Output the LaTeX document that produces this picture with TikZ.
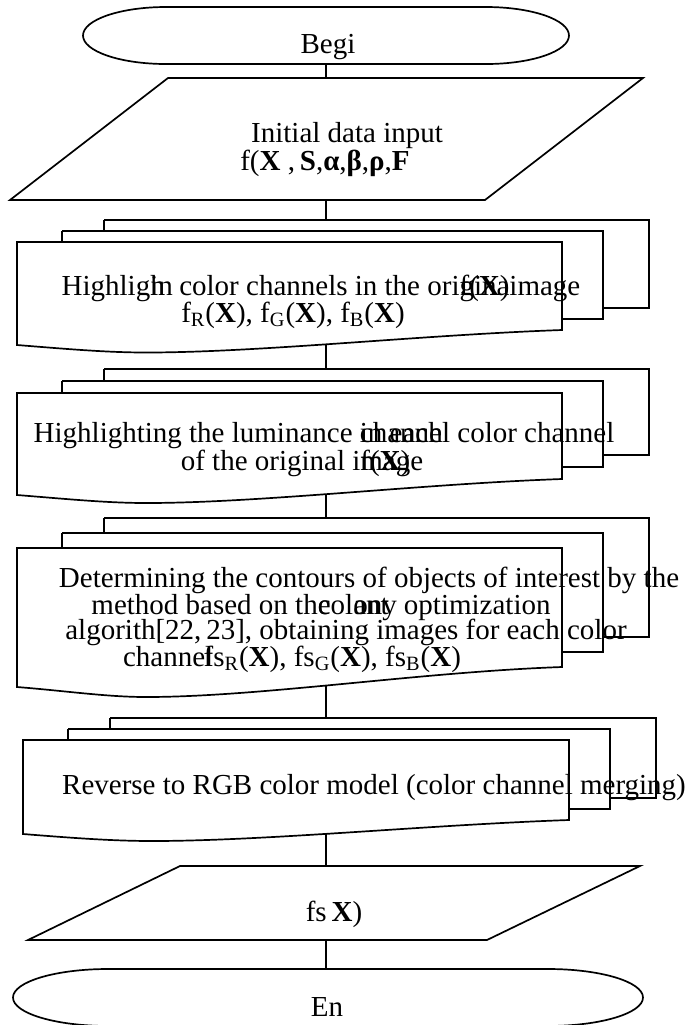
\documentclass[tikz,border=0pt]{standalone}
\usepackage{fontspec}
\setmainfont{Liberation Serif}
\usepackage{tikz}
\usetikzlibrary{calc}
\def\flowfont{\fontsize{14.5}{17}\selectfont}
% left : top : right : right bottom : left bottom : shift of the back sheets
\def\docstack(#1:#2:#3:#4:#5:#6){%
	\draw[flowline] ({#1+87},{-(#2-2*#6)}) -- ({#3+87},{-(#2-2*#6)}) -- ({#3+87},{-(#4-2*#6)}) -- ({#3+41},{-(#4-2*#6)});
	\draw[flowline] ({#1+87},{-(#2-2*#6)}) -- ({#1+87},{-(#2-#6)});
	\draw[flowline] ({#1+45},{-(#2-#6)}) -- ({#3+41},{-(#2-#6)}) -- ({#3+41},{-(#4-#6)}) -- (#3,{-(#4-#6)});
	\draw[flowline] ({#1+45},{-(#2-#6)}) -- ({#1+45},-#2);
	\draw[flowline,fill=white] (#1,-#2) -- (#3,-#2) -- (#3,-#4)
		.. controls ({#1+403},{-(#4+5)}) and ({#1+243},{-(#5+(#5-#4)/2)}) .. ({#1+129},{-(#5+(#5-#4)/2)})
		.. controls ({#1+90},{-(#5+(#5-#4)/2)}) and ({#1+50},{-(#5+4)}) .. (#1,-#5) -- cycle;
}
\tikzset{
	flowline/.style={line width=0.85pt},
	lbl/.style={anchor=base, inner sep=0pt, font=\flowfont}
}

\begin{document}
\begin{tikzpicture}[x=0.5pt, y=0.5pt]
			%%%%% START %%%%%
			\useasboundingbox (0,0) rectangle (685,-1025);
			
			\coordinate (beginS) at (326,-64);
			\coordinate (inputN) at (326,-78);
			\coordinate (inputS) at (326,-200);
			\coordinate (stackAN) at (326,-220);
			\coordinate (stackAS) at (326,-335);
			\coordinate (stackBN) at (326,-370);
			\coordinate (stackBS) at (326,-485);
			\coordinate (stackCN) at (326,-518);
			\coordinate (stackCS) at (326,-675);
			\coordinate (stackDN) at (326,-718);
			\coordinate (stackDS) at (326,-825);
			\coordinate (outputN) at (326,-866);
			\coordinate (outputS) at (326,-940);
			\coordinate (endN) at (326,-969);
			
			\draw[flowline] (beginS) -- (inputN);
			\draw[flowline] (inputS) -- (stackAN);
			\draw[flowline] (stackAS) -- (stackBN);
			\draw[flowline] (stackBS) -- (stackCN);
			\draw[flowline] (stackCS) -- (stackDN);
			\draw[flowline] (stackDS) -- (outputN);
			\draw[flowline] (outputS) -- (endN);
			
			\draw[flowline] (166,-7) -- (486,-7) arc[start angle=90, end angle=-90, x radius=83, y radius=28.5]
				-- (166,-64) arc[start angle=270, end angle=90, x radius=83, y radius=28.5] -- cycle;
			\draw[flowline] (168,-78) -- (643,-78) -- (485,-200) -- (10,-200) -- cycle;
			
			\docstack(17:242:562:330:345:11)
			\docstack(17:393:562:479:495:12)
			\docstack(17:548:562:667:687:15)
			\docstack(23:740:569:820:834:11)
			
			\draw[flowline] (180,-866) -- (640,-866) -- (487,-940) -- (28,-940) -- cycle;
			\draw[flowline] (108,-969) -- (548,-969) arc[start angle=90, end angle=-90, x radius=95, y radius=28.5]
				-- (108,-1026) arc[start angle=270, end angle=90, x radius=95, y radius=28.5] -- cycle;
			
			\node[lbl] (beginT) at (328,-53) {Begi};
			\node[lbl] (inputA) at (347,-142) {Initial data input};
			\node[lbl] (inputB) at (325,-170) {f(\textbf{X} ,\,\textbf{S},\textbf{α},\textbf{β},\textbf{ρ},\textbf{F}};
			
			\node[lbl] (stackA1) at (321,-295) {Highlig\rlap{in}h\ \ color channels in the origina\llap{f(\textbf{X})}image};
			\node[lbl] (stackA2) at (293,-322) {f\textsubscript{R}(\textbf{X}), f\textsubscript{G}(\textbf{X}), f\textsubscript{B}(\textbf{X})};
			
			\node[lbl] (stackB1) at (324,-442) {Highlighting the luminance\rlap{ in each} channel color channel};
			\node[lbl] (stackB2) at (302,-470) {of the original i\rlap{f(\textbf{X})}mage};
			
			\node[lbl] (stackC1) at (369,-587) {Determining the contours of objects of interest by the};
			\node[lbl] (stackC2) at (321,-614) {method based on th\rlap{e}col\rlap{ant}ony optimization};
			\node[lbl] (stackC3) at (346,-639) {algorith[22,\,23], obtaining images for each color};
			\node[lbl] (stackC4) at (292,-666) {channel\llap{f}s\textsubscript{R}(\textbf{X}), fs\textsubscript{G}(\textbf{X}), fs\textsubscript{B}(\textbf{X})};
			
			\node[lbl] (stackD1) at (374,-794) {Reverse to RGB color model (color channel merging)};
			
			\node[lbl] (outputT) at (334,-921) {fs\,\textbf{X})};
			\node[lbl] (endT) at (327,-1016) {En};
			%%%%% END %%%%%
\end{tikzpicture}
\end{document}
